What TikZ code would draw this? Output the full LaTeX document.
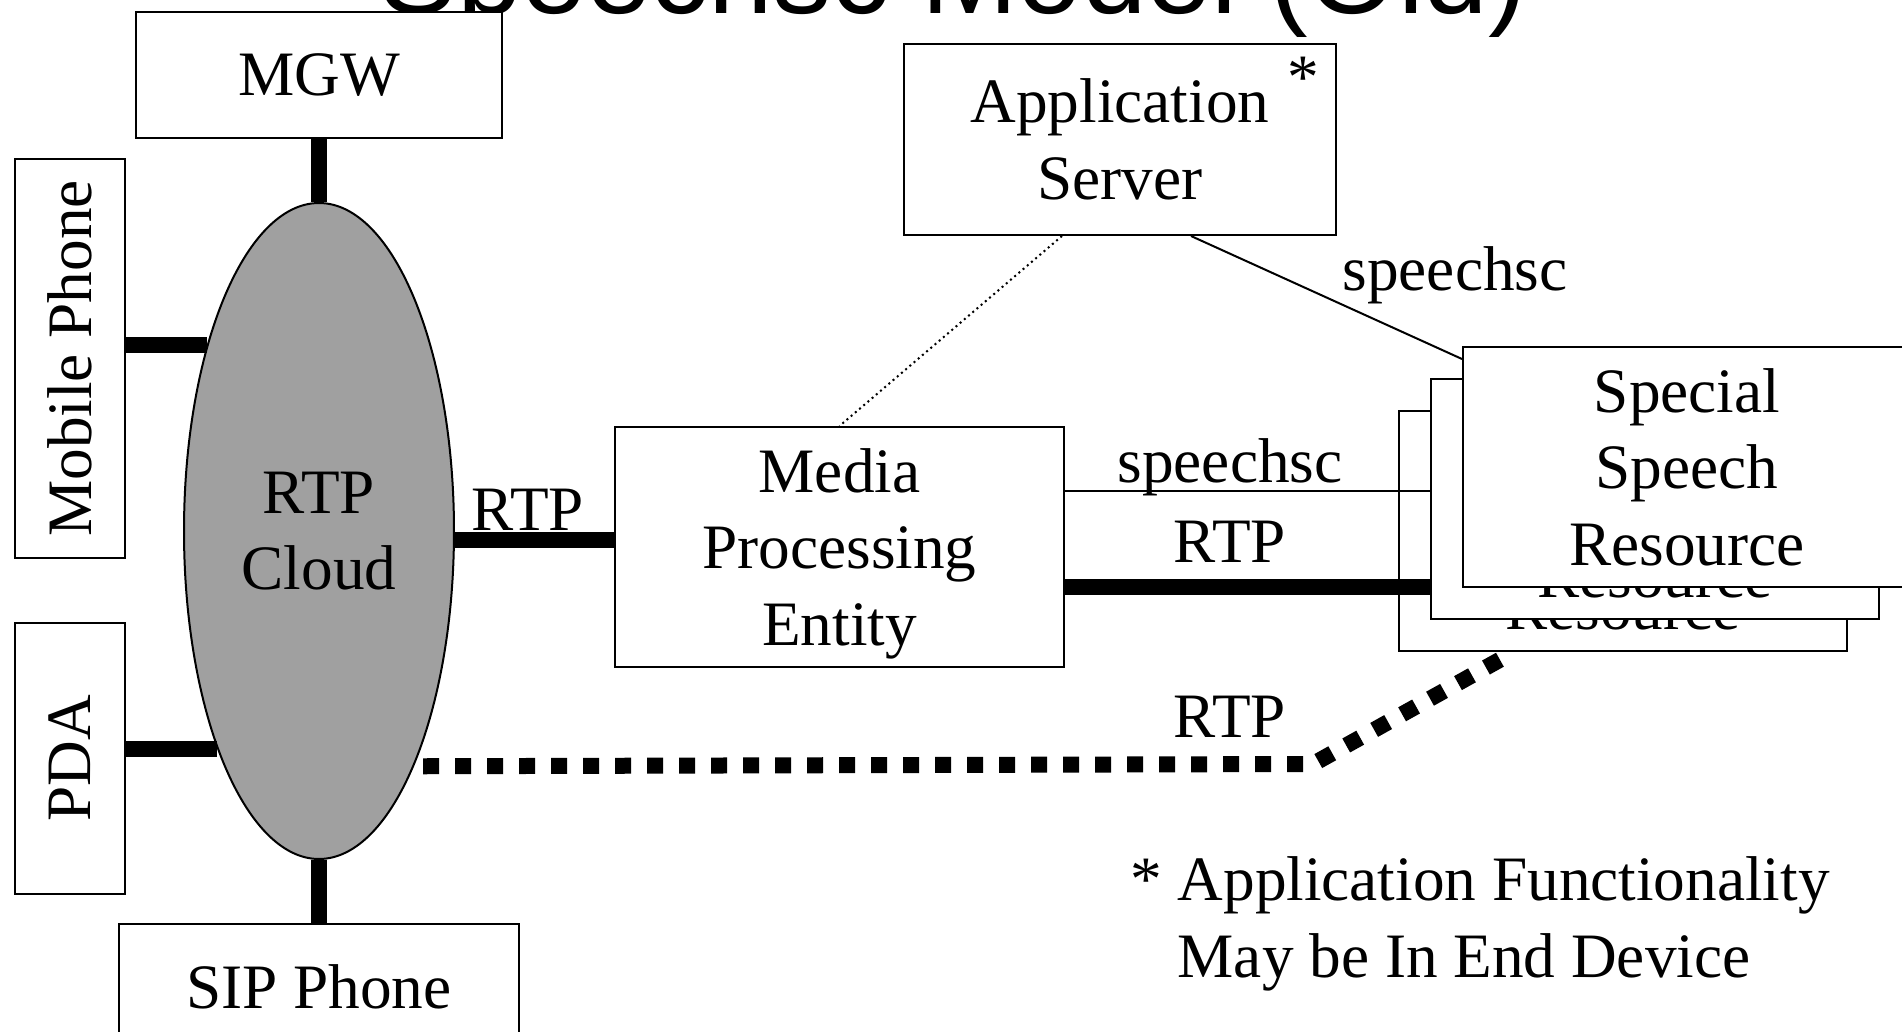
\documentclass[tikz,border=0pt]{standalone}
\usepackage{fontspec}
\setmainfont{Liberation Serif}
\newfontfamily\titlefont{Liberation Sans}
\usetikzlibrary{shapes.geometric,calc}
\definecolor{cloudgray}{RGB}{160,160,160}
\begin{document}
\begin{tikzpicture}[x=0.1mm,y=-0.1mm,
  every node/.style={font=\fontsize{18}{21.8}\selectfont},
  box/.style={draw,fill=white,line width=0.2mm,inner sep=0pt,align=center},
  lbl/.style={inner sep=0pt,anchor=base},
  fat/.style={line width=1.6mm},
  thinline/.style={line width=0.2mm},
  dots/.style={line width=1.6mm,dash pattern=on 1.6mm off 1.6mm}]
\useasboundingbox (0,0) rectangle (1902,1032);
% title, mostly above the page
\node[lbl,anchor=base east,font=\titlefont\fontsize{33}{36}\selectfont] (title) at (1528,13) {Speechsc Model (Old)};
% end devices and the cloud
\node[box,minimum width=36.6mm,minimum height=12.6mm] (mgw) at (319,75) {MGW};
\node[box,minimum width=11mm,minimum height=39.9mm] (mobile) at (70,358.5) {\rotatebox{90}{Mobile Phone}};
\node[box,minimum width=11mm,minimum height=27.1mm] (pda) at (70,758.5) {\rotatebox{90}{PDA}};
\node[box,minimum width=40mm,minimum height=12.6mm] (sip) at (319,987) {SIP Phone};
\node[draw,ellipse,fill=cloudgray,line width=0.2mm,inner sep=0pt,minimum width=27mm,minimum height=65.6mm,align=center] (cloud) at (319,531) {RTP\\Cloud};
% servers
\node[box,minimum width=44.9mm,minimum height=24mm,text depth=0pt] (mpe) at (839.5,547) {Media\\Processing\\Entity};
\node[box,minimum width=43.2mm,minimum height=19.1mm] (as) at (1120,139.5) {Application\\Server};
\node[lbl] (star) at (1303,98) {*};
\foreach \k in {2,1,0}
  \node[box,minimum width=44.8mm,minimum height=24mm] (ssr\k) at ({1687-32*\k},{467+32*\k}) {Special\\Speech\\Resource};
% links to the cloud
\draw[fat] (mgw) -- (cloud);
\draw[fat] (cloud) -- (sip);
\draw[fat] (mobile.east |- cloud.121) -- (cloud.121);
\draw[fat] (pda.east |- cloud.245) -- (cloud.245);
\draw[fat] ($(cloud.east)+(0,9)$) -- ($(mpe.west)+(0,-7)$);
\node[lbl] (rtp1) at (528,530) {RTP};
% control and media links
\draw[thinline,densely dotted] ($(as.south)+(-58,0)$) -- (mpe.north);
\draw[thinline] ($(as.south)+(71,0)$) -- ($(ssr0.north west)+(0,13)$);
\node[lbl] (sc1) at (1455,290) {speechsc};
\draw[thinline] ($(mpe.east)+(0,-56)$) -- ($(ssr1.west)+(0,-8)$);
\node[lbl] (sc2) at (1230,482) {speechsc};
\draw[fat] ($(mpe.east)+(0,40)$) -- ($(ssr1.west)+(0,88)$);
\node[lbl] (rtp2) at (1230,562) {RTP};
\coordinate (bend) at (1313,764);
\draw[dots,dash phase=2.3mm] (cloud.292) -- (bend) -- ($(ssr2.south west)+(105,6)$);
\node[lbl] (rtp3) at (1230,737) {RTP};
% footnote
\node[lbl,anchor=base west] (note1) at (1177,900) {\llap{*\ }Application Functionality};
\node[lbl,anchor=base west] (note2) at (1177,977) {May be In End Device};
\end{tikzpicture}
\end{document}
